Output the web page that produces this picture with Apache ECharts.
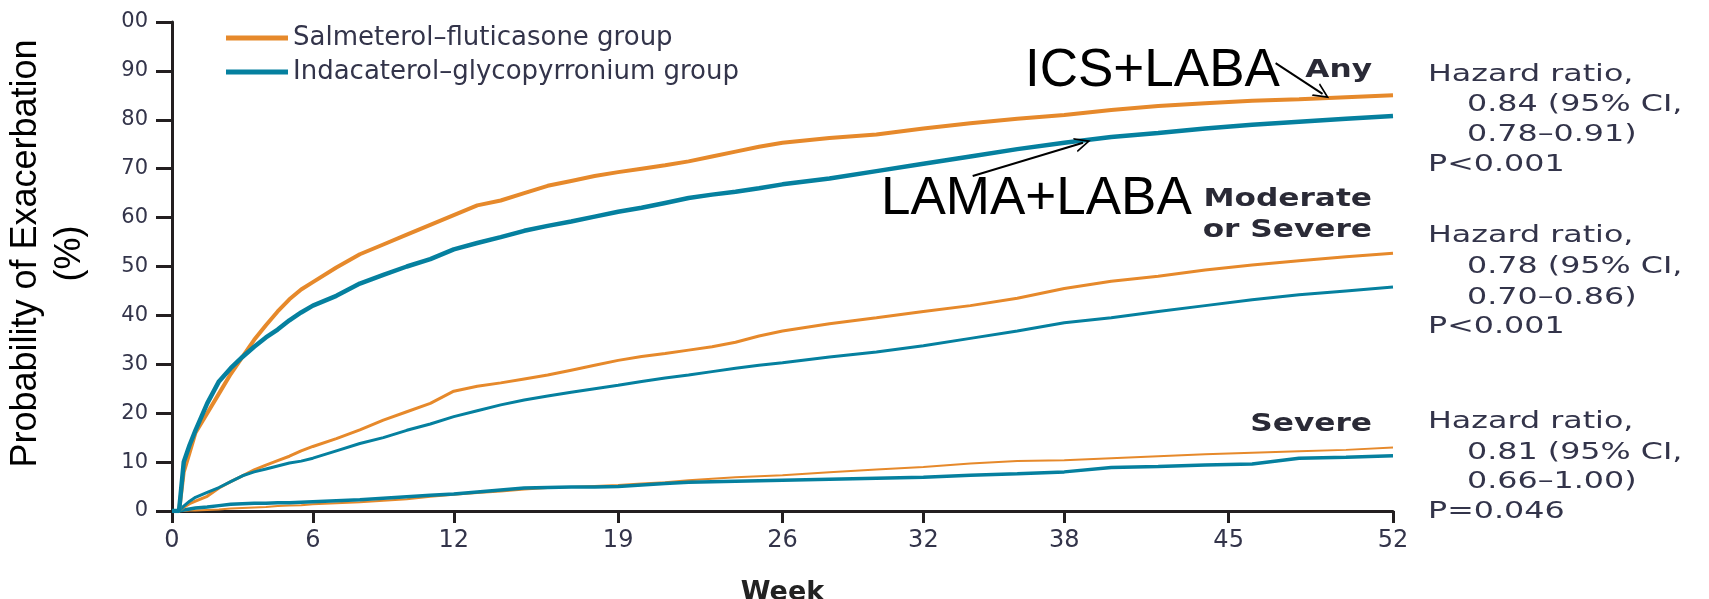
<!DOCTYPE html>
<html><head><meta charset="utf-8">
<script src="https://cdn.jsdelivr.net/npm/echarts@6/dist/echarts.min.js"></script>
<style>html,body{margin:0;padding:0;background:#fff;}#c{width:1709px;height:599px;}</style>
</head><body><div id="c"></div>
<script>
// ---- data (weeks, cumulative % with exacerbation) ----
const weeks = [0,0.3,0.5,0.75,1,1.5,2,2.5,3,3.5,4,4.5,5,5.5,6,7,8,9,10,11,12,13,14,15,16,17,18,19,20,21,22,23,24,25,26,28,30,32,34,36,38,40,42,44,46,48,50,52];
const anySF = [0,0,8,12,16,20,24,28,31.5,35,38,40.8,43.3,45.3,46.8,49.8,52.5,54.5,56.5,58.5,60.5,62.5,63.5,65,66.5,67.5,68.5,69.3,70,70.7,71.5,72.5,73.5,74.5,75.3,76.3,77,78.2,79.3,80.2,81,82,82.8,83.4,83.9,84.2,84.6,85];
const anyIG = [0,0,10,13.5,16.5,22,26.5,29.2,31.5,33.6,35.5,37.1,39,40.6,42,44,46.5,48.3,50,51.5,53.5,54.8,56,57.3,58.3,59.2,60.2,61.2,62,63,64,64.7,65.3,66,66.8,68,69.5,71,72.5,74,75.3,76.5,77.3,78.2,79,79.6,80.2,80.8];
const modSF = [0,0,0.8,1.5,2,3,4.7,6,7.2,8.4,9.4,10.3,11.2,12.3,13.2,14.8,16.6,18.6,20.3,22,24.5,25.5,26.2,27,27.8,28.8,29.8,30.8,31.6,32.2,32.9,33.6,34.5,35.8,36.8,38.3,39.5,40.8,42,43.5,45.5,47,48,49.3,50.3,51.2,52,52.7];
const modIG = [0,0,1,2,2.8,3.8,4.8,6,7.2,8,8.6,9.2,9.8,10.2,10.8,12.3,13.8,15,16.5,17.8,19.3,20.5,21.7,22.7,23.5,24.3,25,25.7,26.5,27.2,27.8,28.5,29.2,29.8,30.3,31.5,32.5,33.8,35.3,36.8,38.5,39.5,40.8,42,43.2,44.2,45,45.8];
const sevSF = [0,0,0,0.1,0.1,0.2,0.3,0.5,0.6,0.7,0.8,1,1.1,1.2,1.4,1.6,1.8,2.1,2.4,2.9,3.3,3.7,4,4.4,4.7,4.9,5.1,5.3,5.6,5.9,6.3,6.6,6.9,7.1,7.3,7.9,8.5,9,9.7,10.2,10.4,10.8,11.2,11.6,11.9,12.2,12.5,13];
const sevIG = [0,0,0.2,0.4,0.6,0.8,1.1,1.4,1.5,1.6,1.6,1.7,1.7,1.8,1.9,2.1,2.3,2.6,2.9,3.2,3.5,3.9,4.3,4.7,4.8,4.9,4.9,5,5.3,5.6,5.9,6,6.1,6.2,6.3,6.5,6.7,6.9,7.3,7.6,8,8.9,9.1,9.4,9.6,10.8,11,11.3];

const groupNames = ['Salmeterol–fluticasone group','Indacaterol–glycopyrronium group'];
const xTickWeeks = [0,6,12,19,26,32,38,45,52];
const yTickLabels = ['0','10','20','30','40','50','60','70','80','90','00'];
const outcomeLabels = ['Any','Moderate','or Severe','Severe'];
const hazardBlocks = [
  ['Hazard ratio,','0.84 (95% CI,','0.78–0.91)','P<0.001'],
  ['Hazard ratio,','0.78 (95% CI,','0.70–0.86)','P<0.001'],
  ['Hazard ratio,','0.81 (95% CI,','0.66–1.00)','P=0.046']
];
const callouts = ['ICS+LABA','LAMA+LABA'];
// arrow annotations in data space [week, %]
const arrowICS = [[47.0,91.6],[49.0,85.3]];
const arrowLAMA = [[34.1,68.5],[38.8,75.3]];

// ---- styling ----
const ORANGE = '#E6892B', TEAL = '#05809F', AX = '#231f20', TXT = '#33344a';
const FONT = '"DejaVu Sans", sans-serif';
function pairs(v){ return weeks.map((w,i)=>[w, v[i]]); }
function line(name, vals, color, width, extra){
  return Object.assign({
    name: name, type: 'line', data: pairs(vals), symbol: 'none', showSymbol: false,
    lineStyle: {color: color, width: width}, itemStyle: {color: color},
    emphasis: {disabled: true}, silent: true
  }, extra || {});
}
const chevron = 'path://M0,20 L10,0 L20,20 L17.5,20 L10,5 L2.5,20 Z';

const chart = echarts.init(document.getElementById('c'));

const graphics = [];
// callouts
graphics.push({type:'text', x:1025, y:71, style:{text:callouts[0], font:'53px "Liberation Sans", Arial, sans-serif', fill:'#000', align:'left', verticalAlign:'middle'}});
graphics.push({type:'text', x:881, y:199, style:{text:callouts[1], font:'53px "Liberation Sans", Arial, sans-serif', fill:'#000', align:'left', verticalAlign:'middle'}});
// outcome labels
const outcomeY = [71, 200, 231, 425];
outcomeLabels.forEach((t,i)=>{
  graphics.push({type:'text', x:1372, y:outcomeY[i], scaleX:1.3, style:{text:t, font:'bold 24px ' + FONT, fill:'#2a2a36', align:'right', verticalAlign:'middle'}});
});
// hazard ratio blocks
const blockY = [[75,105,135,165],[236,267,298,327],[422,453,482,512]];
hazardBlocks.forEach((blk,b)=>{
  blk.forEach((t,i)=>{
    graphics.push({type:'text', x:(i===1||i===2)?1467:1428, y:blockY[b][i], scaleX:1.38,
      style:{text:t, font:'23px ' + FONT, fill:TXT, align:'left', verticalAlign:'middle'}});
  });
});

chart.setOption({
  animation: false,
  backgroundColor: '#fff',
  grid: {left:172, right:316, top:22, bottom:88, outerBoundsMode: 'none', containLabel: false},
  legend: {
    data: groupNames, orient: 'vertical', left: 221, top: 18, itemGap: 4,
    icon: 'rect', itemWidth: 62, itemHeight: 5, selectedMode: false,
    textStyle: {fontFamily: FONT, fontSize: 26, color: TXT, lineHeight: 30}
  },
  xAxis: {
    type: 'value', min: 0, max: 52,
    name: 'Week', nameLocation: 'middle', nameGap: 68,
    nameTextStyle: {fontFamily: FONT, fontWeight: 'bold', fontSize: 27, color: '#222'},
    axisLine: {show: true, lineStyle: {color: AX, width: 3}},
    axisTick: {show: true, customValues: xTickWeeks, length: 12, lineStyle: {color: AX, width: 3}},
    axisLabel: {customValues: xTickWeeks, margin: 18, fontFamily: FONT, fontSize: 24, color: TXT},
    splitLine: {show: false}
  },
  yAxis: {
    type: 'value', min: 0, max: 100, interval: 10,
    name: 'Probability of Exacerbation\n(%)', nameLocation: 'middle', nameRotate: 90, nameGap: 80,
    nameTextStyle: {fontFamily: '"Liberation Sans", Arial, sans-serif', fontSize: 36, color: '#000', lineHeight: 44, align: 'center', padding: [0,0,0,26]},
    axisLine: {show: true, lineStyle: {color: AX, width: 3}},
    axisTick: {show: true, length: 16, lineStyle: {color: AX, width: 3}},
    axisLabel: {margin: 24, fontFamily: FONT, fontSize: 21, color: TXT,
      formatter: v => yTickLabels[Math.round(v/10)]},
    splitLine: {show: false}
  },
  series: [
    line(groupNames[0], sevSF, ORANGE, 2),
    line(groupNames[1], sevIG, TEAL, 3.5),
    line(groupNames[0], modSF, ORANGE, 3),
    line(groupNames[1], modIG, TEAL, 3),
    line(groupNames[0], anySF, ORANGE, 4),
    line(groupNames[1], anyIG, TEAL, 4.5, {
      markLine: {
        silent: true, animation: false,
        symbol: ['none', chevron], symbolSize: [15, 16],
        label: {show: false},
        lineStyle: {color: '#000', width: 2, type: 'solid'},
        emphasis: {disabled: true},
        data: [
          [{coord: arrowICS[0]}, {coord: arrowICS[1]}],
          [{coord: arrowLAMA[0]}, {coord: arrowLAMA[1]}]
        ]
      }
    })
  ],
  graphic: graphics
});
</script></body></html>
